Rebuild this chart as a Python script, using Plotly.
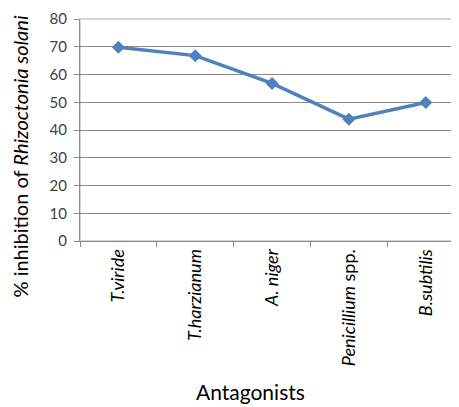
import plotly.graph_objects as go

categories = ["T.viride", "T.harzianum", "A. niger", "Penicillium spp.", "B.subtilis"]
tick_labels = ["<i>T.viride</i>", "<i>T.harzianum</i>", "<i>A. niger</i>",
               "<i>Penicillium</i> spp.", "<i>B.subtilis</i>"]
inhibition = [69.8, 66.8, 56.8, 43.9, 49.9]

blue = "#4F81BD"
grid = "#8C8C8C"

# page has an 8px body margin, so the figure is sized to fit the window
W, H = 451, 399
L, R, T, B = 72, 1, 7, 166

fig = go.Figure()
fig.add_trace(go.Scatter(
    x=categories, y=inhibition, mode="lines+markers",
    line=dict(color=blue, width=3.5),
    marker=dict(symbol="diamond", size=10, color=blue),
    showlegend=False,
))

fig.update_layout(
    width=W, height=H,
    margin=dict(l=L, r=R, t=T, b=B),
    paper_bgcolor="white", plot_bgcolor="white",
    font=dict(family="Lato, Open Sans, sans-serif", color="#000000"),
    xaxis=dict(
        type="category", categoryorder="array", categoryarray=categories,
        range=[-0.5, 4.42],
        tickvals=categories, ticktext=tick_labels, tickangle=-90,
        tickson="boundaries", ticks="outside", ticklen=5, tickcolor=grid,
        showline=True, linecolor=grid, linewidth=1,
        showgrid=False, zeroline=False,
        tickfont=dict(size=18, color="#000000"),
        ticklabeloverflow="allow",
    ),
    yaxis=dict(
        range=[0, 80], dtick=10, tick0=0,
        ticks="outside", ticklen=5, tickcolor=grid,
        showline=True, linecolor=grid, linewidth=1,
        showgrid=True, gridcolor=grid, gridwidth=1,
        zeroline=False,
        tickfont=dict(size=15, color="#404040"),
        ticklabelstandoff=4,
        ticklabeloverflow="allow",
    ),
)

fig.add_shape(type="rect", xref="paper", yref="paper", x0=0, y0=0, x1=1, y1=1,
              line=dict(color="#C8C8C8", width=1.5), layer="below")

pw, ph = W - L - R, H - T - B
fig.add_annotation(
    text="% inhibition of <i>Rhizoctonia solani</i>",
    xref="paper", yref="paper", x=(12 - L) / pw, y=(H - B - 147) / ph, textangle=-90,
    showarrow=False, font=dict(size=20, color="#000000"),
    xanchor="center", yanchor="middle",
)
fig.add_annotation(
    text="Antagonists", xref="paper", yref="paper", x=(242 - L) / pw, y=(H - B - 386) / ph,
    showarrow=False, font=dict(size=21, color="#000000"),
    xanchor="center", yanchor="middle",
)

fig.write_html("out.html")
